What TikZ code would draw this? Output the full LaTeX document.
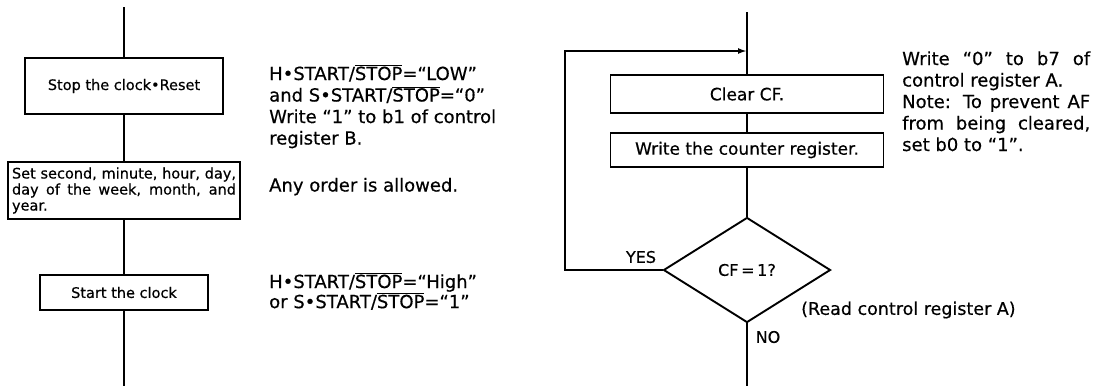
\documentclass[tikz,border=0pt]{standalone}
\usepackage{fontspec}
\setmainfont{DejaVu Sans}[FakeBold=0.5]
\usetikzlibrary{shapes.geometric,arrows.meta}
\begin{document}
\begin{tikzpicture}[x=1pt,y=-1pt,
  flow/.style={line width=1.9pt},
  lbox/.style={draw, line width=1.9pt, inner sep=0pt, font=\fontsize{14.5}{16}\selectfont},
  rbox/.style={draw, line width=1.9pt, inner sep=0pt, font=\fontsize{17}{19}\selectfont},
  side/.style={anchor=base west, inner sep=0pt, font=\fontsize{18}{21.5}\selectfont},
  lab/.style={inner sep=0pt, font=\fontsize{16}{18}\selectfont},
  tip/.style={-{Latex[length=9pt,width=6pt]}}]
\useasboundingbox (0,0) rectangle (1096,386);
% ---------- left flow ----------
\coordinate (ltop) at (124,7);
\coordinate (lbot) at (124,386);
\node[lbox, minimum width=198pt, minimum height=56pt] (s1) at (124,86) {Stop the clock•Reset};
\node[lbox, minimum width=232pt, minimum height=57pt] (s2) at (124,190.5)
  {\parbox{224pt}{\makebox[224pt][s]{Set second, minute, hour, day,}\\\makebox[224pt][s]{day of the week, month, and}\\year.}};
\node[lbox, minimum width=168pt, minimum height=35pt] (s3) at (124,292.5) {Start the clock};
\draw[flow] (ltop) -- (s1);
\draw[flow] (s1) -- (s2);
\draw[flow] (s2) -- (s3);
\draw[flow] (s3) -- (lbot);
\node[side] (t1) at (269,80) {\parbox[t]{230pt}{H•START/$\overline{\mbox{STOP}}$=“LOW”\\and S•START/$\overline{\mbox{STOP}}$=“0”\\Write “1” to b1 of control\\register B.}};
\node[side] (t2) at (269,191.5) {Any order is allowed.};
\node[side] (t3) at (269,288) {\parbox[t]{230pt}{\baselineskip=18.5pt H•START/$\overline{\mbox{STOP}}$=“High”\\or S•START/$\overline{\mbox{STOP}}$=“1”}};
% ---------- right flow ----------
\coordinate (rtop) at (747,12);
\coordinate (rbot) at (747,386);
\coordinate (join) at (747,51);
\coordinate (loop) at (565,51);
\node[rbox, minimum width=273pt, minimum height=38pt] (c1) at (747,94) {Clear CF.};
\node[rbox, minimum width=273pt, minimum height=34pt] (c2) at (747,150) {Write the counter register.};
\node[diamond, draw, line width=1.9pt, lab, minimum width=167pt, minimum height=105pt] (d) at (747,270) {CF\,=\,1?};
\draw[flow] (rtop) -- (c1);
\draw[flow] (c1) -- (c2);
\draw[flow] (c2) -- (d);
\draw[flow] (d) -- (rbot);
\draw[flow, tip] (d.west) -| (loop) -- (join);
\node[lab] (yes) at (641,257) {YES};
\node[lab] (no) at (768,337) {NO};
\node[lab, anchor=west, font=\fontsize{17.5}{20}\selectfont] (rd) at (801,310) {(Read control register A)};
\node[side] (rt) at (902,65) {\parbox[t]{188pt}{\makebox[188pt][s]{Write “0” to b7 of}\\control register A.\\\makebox[188pt][s]{Note: To prevent AF}\\\makebox[188pt][s]{from being cleared,}\\set b0 to “1”.}};
\end{tikzpicture}
\end{document}
